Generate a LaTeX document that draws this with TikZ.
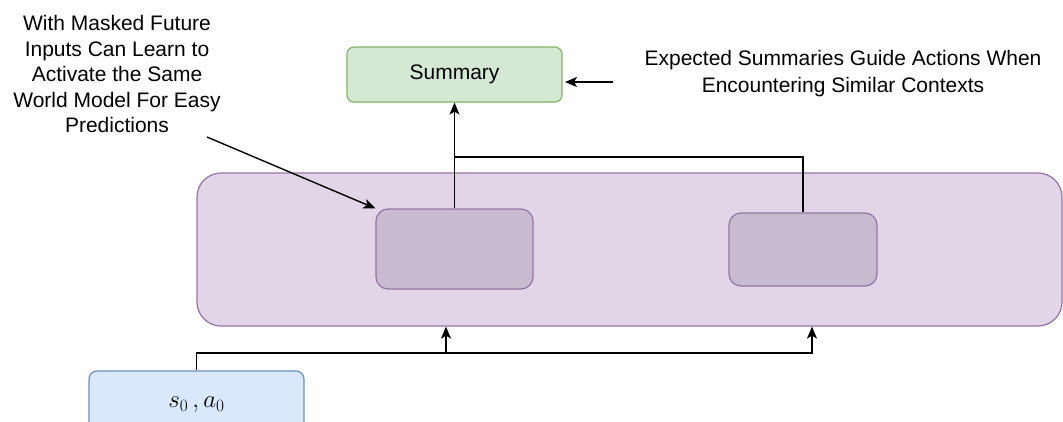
\documentclass[tikz,border=0pt]{standalone}
\usepackage{fontspec}
\setmainfont{Liberation Sans}
\usetikzlibrary{arrows.meta,calc}
\definecolor{pfill}{HTML}{E1D5E7}
\definecolor{pdraw}{HTML}{9673A6}
\definecolor{ifill}{HTML}{C8BBD0}
\definecolor{gfill}{HTML}{D5E8D4}
\definecolor{gdraw}{HTML}{82B366}
\definecolor{bfill}{HTML}{DAE8FC}
\definecolor{bdraw}{HTML}{6C8EBF}
\tikzset{
  box/.style={draw, line width=1.2pt, inner sep=0pt, rounded corners=#1},
  lbl/.style={font=\fontsize{21}{25.5}\selectfont, align=center, inner sep=0pt},
  arr/.style={line width=1.4pt, -{Stealth[length=12pt,width=10pt,inset=3pt]}},
  wire/.style={line width=1.4pt}
}
\begin{document}
\begin{tikzpicture}[x=1pt,y=-1pt]
\useasboundingbox (0,0) rectangle (1063,421);
% nodes
\node[box=24pt, fill=pfill, draw=pdraw, minimum width=865pt, minimum height=153pt] (big) at (629.5,249.5) {};
\node[box=12pt, fill=ifill, draw=pdraw, minimum width=157pt, minimum height=80pt] (b1) at (454.5,249) {};
\node[box=12pt, fill=ifill, draw=pdraw, minimum width=148pt, minimum height=73pt] (b2) at (803,249.5) {};
\node[box=7pt, fill=gfill, draw=gdraw, minimum width=215pt, minimum height=55pt, lbl] (summary) at (454.5,74.5) {Summary};
\node[box=8pt, fill=bfill, draw=bdraw, minimum width=215pt, minimum height=68pt, font=\fontsize{27}{30}\selectfont] (s0) at (196.5,405) {$s_0\,, a_0$};
\node[lbl] (lt) at (117,74) {With Masked Future\\Inputs Can Learn to\\Activate the Same\\World Model For Easy\\Predictions};
\node[lbl, font=\fontsize{21}{27}\selectfont] (rt) at (843,74) {Expected Summaries Guide Actions When\\Encountering Similar Contexts};
% coordinates
\coordinate (j) at (454.5,157);
\coordinate (h1) at (446,353);
\coordinate (h2) at (812,353);
\coordinate (la) at (207,137);
\coordinate (ra) at (613,82);
\coordinate (re) at (565,82);
% connectors
\draw[arr] (b1.north) -- (summary.south);
\draw[wire] (b2.north) |- (j);
\draw[arr] (s0.north) |- (h1) -- (h1 |- big.south);
\draw[arr] (h1) -- (h2) -- (h2 |- big.south);
\draw[arr] (la) -- (b1.north west);
\draw[arr] (ra) -- (re);
\end{tikzpicture}
\end{document}
